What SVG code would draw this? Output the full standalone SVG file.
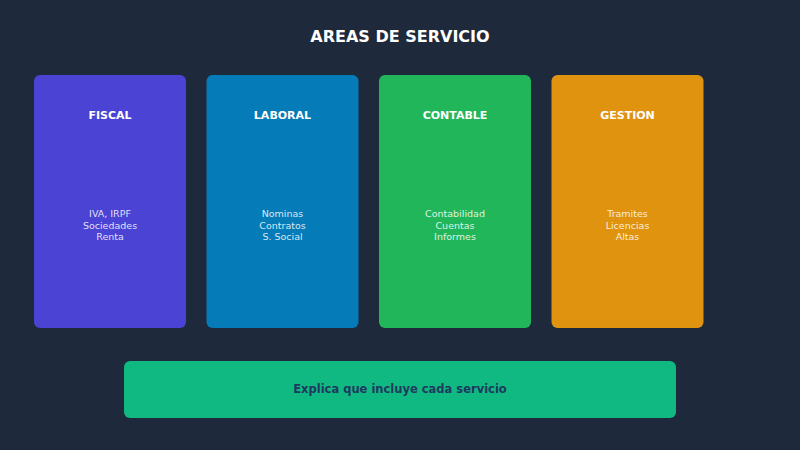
<svg xmlns="http://www.w3.org/2000/svg" width="800" height="450" viewBox="0 0 800 450">
<style>
.card{opacity:0.9}
.h{font-family:"DejaVu Sans",sans-serif;font-weight:bold;font-size:11px;fill:#fff;text-anchor:middle}
.b{font-family:"DejaVu Sans",sans-serif;font-size:9.5px;fill:#fff;fill-opacity:0.85;text-anchor:middle}
</style>
<rect width="800" height="450" fill="#1e293b"/>
<text x="400" y="42" font-family="DejaVu Sans,sans-serif" font-weight="bold" font-size="16" fill="#fff" text-anchor="middle">AREAS DE SERVICIO</text>
<g id="fiscal"><rect class="card" x="34" y="75" width="152" height="253" rx="6" fill="#4f46e5"/><text class="h" x="110" y="119">FISCAL</text><text class="b" x="110" y="217">IVA, IRPF</text><text class="b" x="110" y="229">Sociedades</text><text class="b" x="110" y="240">Renta</text></g>
<g id="laboral"><rect class="card" x="206.5" y="75" width="152" height="253" rx="6" fill="#0284c7"/><text class="h" x="282.5" y="119">LABORAL</text><text class="b" x="282.5" y="217">Nominas</text><text class="b" x="282.5" y="229">Contratos</text><text class="b" x="282.5" y="240">S. Social</text></g>
<g id="contable"><rect class="card" x="379" y="75" width="152" height="253" rx="6" fill="#22c55e"/><text class="h" x="455" y="119">CONTABLE</text><text class="b" x="455" y="217">Contabilidad</text><text class="b" x="455" y="229">Cuentas</text><text class="b" x="455" y="240">Informes</text></g>
<g id="gestion"><rect class="card" x="551.5" y="75" width="152" height="253" rx="6" fill="#f59e0b"/><text class="h" x="627.5" y="119">GESTION</text><text class="b" x="627.5" y="217">Tramites</text><text class="b" x="627.5" y="229">Licencias</text><text class="b" x="627.5" y="240">Altas</text></g>
<g id="nota"><rect x="124" y="361" width="552" height="57" rx="6" fill="#10b981"/><text x="400" y="393" font-family="DejaVu Sans,sans-serif" font-weight="bold" font-size="11.5" fill="#1e3a5f" text-anchor="middle">Explica que incluye cada servicio</text></g>
<g id="connectors"/>
</svg>
